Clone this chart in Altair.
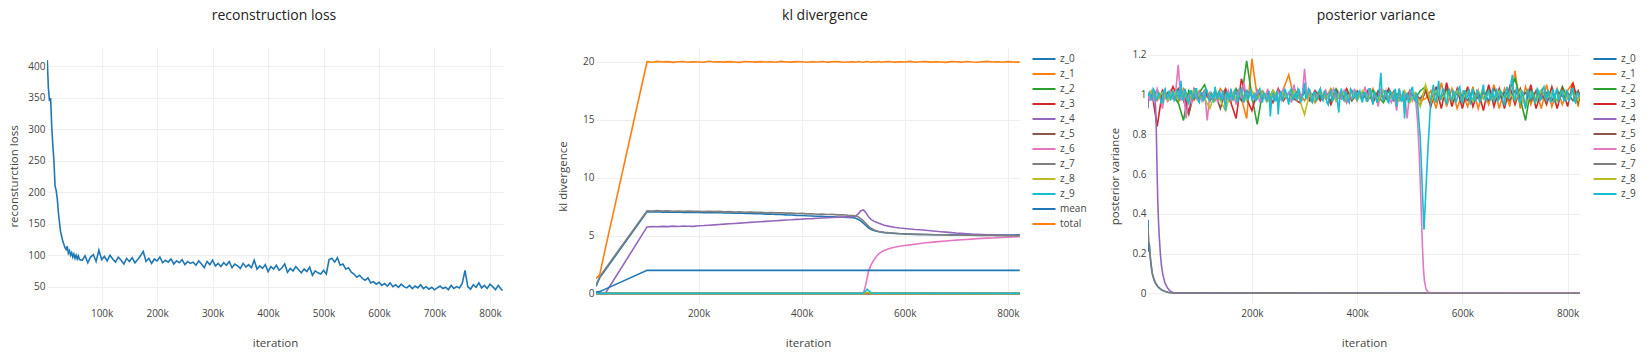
import altair as alt
import pandas as pd

FONT = "Open Sans"
TICK = "#444444"
GRID = "#eeeeee"

# ---------------- reconstruction loss ----------------
RECON_X = list(range(2000, 60001, 2000)) + list(range(65000, 820001, 5000)) + [823000]
RECON_Y = [
    410, 366, 345, 350, 305, 275, 250, 210, 203, 190,
    168, 152, 137, 130, 122, 117, 112, 109, 114, 103,
    107, 100, 104, 97, 102, 95, 100, 94, 99, 93,
    92, 99, 88, 97, 101, 90, 108, 93, 98, 91,
    100, 94, 89, 97, 92, 86, 95, 90, 96, 88,
    93, 99, 106, 90, 95, 87, 94, 91, 97, 88,
    92, 89, 94, 86, 91, 88, 93, 85, 90, 87,
    89, 84, 91, 86, 80, 90, 85, 92, 83, 87,
    82, 88, 84, 90, 80, 86, 83, 79, 87, 81,
    85, 80, 92, 78, 83, 79, 85, 74, 82, 78,
    84, 76, 80, 86, 73, 79, 75, 82, 77, 72,
    78, 74, 81, 68, 75, 72, 70, 76, 70, 93,
    95, 89, 96, 84, 86, 78, 80, 73, 70, 65,
    68, 63, 60, 64, 56, 58, 54, 57, 52, 55,
    51, 56, 50, 53, 49, 54, 50, 48, 52, 47,
    51, 48, 53, 47, 50, 46, 49, 45, 48, 51,
    47, 49, 45, 52, 47, 50, 48, 55, 76, 50,
    46, 53, 49, 56, 48, 52, 47, 54, 50, 45,
    52, 46, 44,
]

# ---------------- kl divergence ----------------
KL_SERIES = ["z_0", "z_1", "z_2", "z_3", "z_4", "z_5", "z_6", "z_7", "z_8", "z_9", "mean", "total"]
KL_COLORS = ["#1f77b4", "#ff7f0e", "#2ca02c", "#d62728", "#9467bd", "#8c564b",
             "#e377c2", "#7f7f7f", "#bcbd22", "#17becf", "#1f77b4", "#ff7f0e"]
KL_X = ([1000, 8000, 19000] + list(range(100000, 500000, 10000))
        + list(range(500000, 560000, 5000)) + list(range(560000, 830000, 10000)) + [823000])
KL_TOTAL = [
    1.3, 1.6, 3.85,
    20.02, 19.97, 20.05, 19.99, 20.03, 19.96, 20.01, 20.04, 19.98, 20.02,
    20.00, 19.97, 20.06, 19.99, 20.02, 19.98, 20.03, 20.00, 19.96, 20.04,
    20.01, 19.98, 20.03, 19.99, 20.02, 19.97, 20.05, 20.00, 19.98, 20.03,
    20.01, 19.97, 20.02, 19.99, 20.04, 19.98, 20.01, 20.03, 19.97, 20.00,
    20.02, 19.98, 20.04, 20.00, 19.97, 20.03, 20.01, 19.98, 20.02, 19.99, 20.03, 19.97,
    20.01, 20.04, 19.98, 20.02, 19.99, 20.05, 19.97, 20.01, 20.03, 19.98,
    20.02, 20.00, 19.96, 20.03, 20.01, 19.98, 20.04, 20.00, 19.97, 20.02,
    20.05, 19.99, 20.01, 19.97, 20.03, 20.00, 19.98,
    19.98,
]
KL_Z0 = [
    0.6, 1.35, 2.03,
    7.05, 7.04, 7.06, 7.03, 7.05, 7.02, 7.04, 7.01, 7.03, 7.00,
    7.01, 6.98, 7.00, 6.97, 6.99, 6.95, 6.96, 6.93, 6.95, 6.91,
    6.92, 6.89, 6.90, 6.86, 6.87, 6.83, 6.82, 6.79, 6.78, 6.75,
    6.74, 6.71, 6.70, 6.67, 6.66, 6.63, 6.62, 6.60, 6.59, 6.57,
    6.55, 6.50, 6.40, 6.25, 6.05, 5.85, 5.65, 5.52, 5.45, 5.38, 5.33, 5.29,
    5.26, 5.22, 5.19, 5.16, 5.14, 5.12, 5.11, 5.10, 5.09, 5.08,
    5.08, 5.07, 5.07, 5.06, 5.06, 5.05, 5.06, 5.05, 5.04, 5.05,
    5.04, 5.05, 5.04, 5.05, 5.04, 5.05, 5.06,
    5.06,
]
KL_Z7 = [
    0.7, 1.45, 2.13,
    7.15, 7.13, 7.16, 7.12, 7.14, 7.11, 7.13, 7.10, 7.12, 7.09,
    7.11, 7.08, 7.10, 7.07, 7.09, 7.05, 7.07, 7.04, 7.06, 7.02,
    7.04, 7.01, 7.02, 6.98, 7.00, 6.96, 6.97, 6.94, 6.95, 6.91,
    6.92, 6.88, 6.89, 6.85, 6.86, 6.82, 6.83, 6.79, 6.80, 6.76,
    6.74, 6.70, 6.62, 6.45, 6.25, 6.02, 5.80, 5.62, 5.50, 5.42, 5.36, 5.32,
    5.29, 5.25, 5.21, 5.18, 5.16, 5.14, 5.12, 5.11, 5.10, 5.09,
    5.08, 5.07, 5.06, 5.05, 5.05, 5.04, 5.03, 5.03, 5.02, 5.02,
    5.01, 5.01, 5.00, 5.00, 4.99, 5.00, 4.99,
    4.99,
]
KL_Z4 = [
    0.0, 0.0, 0.0,
    5.75, 5.78, 5.76, 5.80, 5.78, 5.82, 5.79, 5.83, 5.81, 5.80,
    5.85, 5.87, 5.90, 5.93, 5.96, 5.99, 6.02, 6.05, 6.08, 6.11,
    6.14, 6.17, 6.20, 6.23, 6.26, 6.29, 6.32, 6.35, 6.37, 6.40,
    6.42, 6.45, 6.47, 6.50, 6.52, 6.54, 6.56, 6.58, 6.60, 6.62,
    6.64, 6.70, 6.90, 7.15, 7.22, 6.95, 6.60, 6.38, 6.25, 6.15, 6.06, 5.98,
    5.90, 5.80, 5.72, 5.66, 5.61, 5.57, 5.53, 5.50, 5.46, 5.42,
    5.38, 5.34, 5.30, 5.26, 5.22, 5.19, 5.16, 5.13, 5.11, 5.09,
    5.07, 5.05, 5.04, 5.03, 5.02, 5.01, 5.00,
    5.00,
]
KL_Z6 = [
    0.0, 0.0, 0.0,
    0, 0, 0, 0, 0, 0, 0, 0, 0, 0,
    0, 0, 0, 0, 0, 0, 0, 0, 0, 0,
    0, 0, 0, 0, 0, 0, 0, 0, 0, 0,
    0, 0, 0, 0, 0, 0, 0, 0, 0, 0,
    0.0, 0.0, 0.0, 0.0, 0.05, 0.9, 2.0, 2.5, 2.9, 3.2, 3.45, 3.6,
    3.72, 3.88, 4.00, 4.08, 4.15, 4.20, 4.26, 4.32, 4.38, 4.42,
    4.46, 4.50, 4.54, 4.58, 4.61, 4.64, 4.67, 4.70, 4.73, 4.76,
    4.78, 4.80, 4.82, 4.84, 4.86, 4.88, 4.90,
    4.90,
]
KL_MEAN_X = [1000, 8000, 19000, 100000, 823000]
KL_MEAN = [0.13, 0.16, 0.38, 2.0, 2.0]
KL_ZERO_X = [1000, 823000]
KL_ZERO = [0.0, 0.0]
KL_BUMP_X = [1000, 518000, 523000, 527000, 531000, 536000, 823000]
KL_Z8 = [0.0, 0.0, 0.04, 0.10, 0.06, 0.0, 0.0]
KL_Z9 = [0.01, 0.01, 0.15, 0.38, 0.20, 0.02, 0.01]

# ---------------- posterior variance ----------------
PV_SERIES = ["z_0", "z_1", "z_2", "z_3", "z_4", "z_5", "z_6", "z_7", "z_8", "z_9"]
PV_COLORS = KL_COLORS[:10]
PV_Z0_X = [2500, 3500, 5000, 8000, 10000, 12000, 15000, 18000, 22000, 28000, 34000, 40000, 50000, 823000]
PV_Z0 = [0.37, 0.21, 0.23, 0.15, 0.11, 0.085, 0.06, 0.045, 0.03, 0.018, 0.01, 0.005, 0.001, 0.0]
PV_Z7_X = [2500, 4000, 5500, 7000, 9000, 11000, 14000, 17000, 21000, 26000, 32000, 40000, 50000, 823000]
PV_Z7 = [0.33, 0.26, 0.24, 0.18, 0.13, 0.095, 0.07, 0.05, 0.035, 0.022, 0.012, 0.005, 0.001, 0.0]
PV_Z4_X = [2500, 4000, 6000, 8000, 10000, 12000, 14000, 16000, 18000, 19500, 21000, 22500,
           24000, 26000, 28000, 31000, 35000, 40000, 45000, 52000, 823000]
PV_Z4 = [0.93, 1.01, 0.97, 1.02, 0.98, 1.00, 0.96, 0.99, 0.86, 0.65, 0.47, 0.36,
         0.28, 0.20, 0.14, 0.09, 0.05, 0.025, 0.01, 0.002, 0.0]
PV_Z9_X = ([2500] + list(range(5000, 516000, 2500)) + [520000, 527000, 534000, 540000]
           + list(range(545000, 820001, 2500)) + [823000])
PV_Z9 = [
    0.99,
    1.01, 0.99, 0.97, 1.03, 1.02, 0.97, 0.98, 1.01, 1.00, 0.96, 0.96, 1.02, 1.03, 0.98, 0.99, 1.02, 0.97, 0.99, 1.02, 0.97,
    0.98, 1.02, 1.01, 0.97, 1.07, 0.99, 0.97, 1.03, 1.00, 0.97, 0.95, 1.02, 1.02, 0.98, 0.99, 1.03, 1.03, 0.97, 0.96, 1.01,
    1.01, 0.97, 0.98, 1.03, 1.02, 0.98, 0.97, 1.01, 1.00, 0.96, 1.04, 0.99, 0.98, 1.02, 0.99, 0.97, 1.02, 0.98, 0.92, 1.01,
    1.00, 0.97, 1.03, 0.99, 0.97, 1.02, 1.01, 0.96, 0.98, 1.02, 1.03, 0.98, 0.96, 1.01, 1.02, 0.97, 1.00, 1.03, 0.97, 0.99,
    1.01, 0.97, 0.98, 1.02, 1.03, 0.98, 0.96, 1.01, 1.00, 0.97, 0.99, 1.02, 0.89, 0.98, 1.01, 0.97, 0.97, 1.02, 0.90, 0.99,
    1.02, 0.97, 0.98, 1.03, 1.01, 0.98, 0.95, 1.02, 1.03, 0.97, 0.99, 1.01, 0.97, 1.03, 1.02, 0.96, 0.98, 1.01, 1.06, 0.98,
    0.99, 1.03, 1.02, 0.97, 0.96, 1.01, 1.01, 0.97, 0.98, 1.02, 1.03, 0.98, 0.97, 1.02, 1.00, 0.96, 0.95, 1.01, 1.02, 0.97,
    0.98, 1.02, 1.01, 0.97, 0.91, 1.00, 1.03, 0.98, 0.97, 1.02, 1.00, 0.97, 0.96, 1.03, 1.02, 0.98, 0.99, 1.02, 0.97, 1.01,
    1.02, 0.98, 0.96, 1.01, 1.01, 0.97, 0.98, 1.03, 1.03, 0.98, 0.95, 1.02, 1.00, 0.96, 0.98, 1.03, 1.11, 0.99, 0.97, 1.02,
    1.02, 0.97, 0.96, 1.02, 1.01, 0.97, 0.99, 1.03, 0.94, 1.00, 1.03, 0.97, 0.97, 1.02, 0.88, 0.99, 1.01, 0.96, 0.98, 1.02,
    1.04, 0.98, 0.97, 1.01, 0.95,
    0.78, 0.32, 0.70, 0.98,
    1.05, 0.98, 0.96, 1.02, 1.07, 0.97, 0.99, 1.03, 1.02, 0.97, 0.95, 1.01, 1.03, 0.98, 0.97, 1.02, 1.01, 0.96, 0.98, 1.03,
    1.04, 0.97, 0.96, 1.02, 1.02, 0.98, 0.99, 1.03, 0.95, 1.00, 1.03, 0.97, 0.97, 1.02, 1.01, 0.96, 0.98, 1.02, 1.05, 0.98,
    0.97, 1.01, 1.02, 0.97, 0.99, 1.03, 0.96, 1.00, 1.03, 0.97, 0.98, 1.02, 1.01, 0.96, 0.95, 1.02, 1.04, 0.98, 1.00, 1.06,
    1.10, 0.99, 0.97, 1.03, 1.02, 0.97, 0.96, 1.02, 1.01, 0.97, 0.93, 1.00, 1.03, 0.98, 0.98, 1.02, 1.00, 0.96, 0.97, 1.03,
    1.02, 0.97, 0.98, 1.03, 1.04, 0.98, 0.97, 1.02, 1.01, 0.96, 0.99, 1.03, 0.96, 1.01, 1.03, 0.97, 0.98, 1.02, 1.02, 0.97,
    0.97, 1.02, 1.01, 0.97, 0.98, 1.03, 1.03, 0.97, 0.96, 1.01, 1.00,
    0.99,
]
PV_X_FINE = [2500] + list(range(5000, 516000, 5000))
PV_Z6_X = PV_X_FINE + [518000, 521000, 524000, 526000, 528000, 531000, 535000, 545000, 823000]
PV_Z6 = [
    1.00,
    0.98, 1.02, 0.96, 1.03, 0.99, 0.93, 1.01, 0.97, 1.02, 0.98,
    1.01, 1.15, 0.97, 1.02, 0.88, 1.00, 0.96, 1.03, 0.98, 1.01,
    0.97, 1.02, 0.87, 1.00, 0.98, 1.03, 0.96, 1.01, 0.99, 0.98,
    1.02, 0.97, 1.01, 0.95, 1.03, 0.98, 1.06, 0.97, 1.01, 0.99,
    0.98, 1.02, 0.96, 1.01, 0.98, 1.03, 0.97, 1.00, 0.98, 1.02,
    0.97, 1.03, 0.99, 1.01, 0.96, 1.05, 0.98, 1.02, 0.97, 1.13,
    0.98, 1.02, 0.96, 1.01, 0.99, 1.03, 0.97, 1.02, 0.98, 1.00,
    1.03, 0.97, 1.01, 0.98, 1.02, 0.96, 1.00, 0.98, 1.03, 0.97,
    1.01, 0.99, 1.04, 0.97, 1.02, 0.98, 1.00, 0.94, 1.03, 0.97,
    1.02, 0.98, 0.96, 1.01, 0.92, 1.03, 0.97, 1.00, 0.88, 1.02,
    0.97, 1.01, 0.86,
    0.70, 0.48, 0.24, 0.12, 0.06, 0.02, 0.005, 0.0, 0.0,
]
PV_X_COARSE = [2500] + list(range(10000, 820001, 10000)) + [823000]
PV_Z1 = [
    0.99,
    1.00, 0.97, 1.02, 0.98, 1.01, 0.96, 1.03, 0.99, 0.97, 1.02,
    0.98, 1.01, 0.97, 1.03, 0.99, 0.96, 1.02, 0.98, 0.88, 1.18,
    0.99, 1.02, 0.97, 1.01, 0.96, 1.03, 1.10, 0.98, 1.01, 0.97,
    1.02, 0.96, 1.01, 0.98, 1.03, 0.97, 1.00, 0.96, 1.02, 0.98,
    1.01, 0.97, 1.03, 0.96, 1.02, 0.98, 1.01, 0.97, 1.00, 0.98,
    0.99, 0.97, 0.98, 1.02, 0.93, 1.06, 0.94, 1.03, 0.93, 1.01,
    0.94, 1.04, 0.93, 1.02, 0.95, 1.05, 0.93, 1.03, 0.94, 1.12,
    0.93, 1.04, 0.95, 1.02, 0.93, 1.05, 0.94, 1.03, 0.95, 1.02,
    1.06, 0.94,
    1.00,
]
PV_Z2 = [
    1.00,
    0.98, 1.02, 0.97, 1.01, 0.99, 0.96, 0.87, 1.02, 0.98, 1.01,
    1.05, 0.97, 1.02, 0.98, 1.01, 0.97, 1.03, 0.98, 1.17, 0.99,
    0.85, 1.01, 0.97, 1.02, 0.98, 1.01, 0.97, 1.03, 0.99, 1.01,
    0.97, 1.02, 0.98, 1.01, 0.96, 1.03, 0.99, 0.97, 1.02, 0.98,
    1.01, 0.97, 1.02, 0.99, 0.96, 1.02, 0.98, 1.01, 0.97, 1.00,
    0.98, 1.02, 1.04, 0.97, 1.01, 0.98, 1.03, 0.97, 1.02, 0.99,
    1.03, 0.97, 1.01, 0.98, 1.04, 0.96, 1.02, 0.99, 1.03, 1.08,
    0.98, 0.87, 1.03, 0.97, 1.02, 0.99, 1.01, 0.97, 1.04, 0.98,
    1.02, 0.96,
    1.00,
]
PV_Z3 = [
    0.98,
    1.01, 0.84, 1.02, 0.97, 1.04, 0.98, 1.01, 0.91, 1.03, 0.98,
    1.02, 0.97, 1.01, 0.98, 1.03, 0.96, 0.88, 1.08, 0.98, 0.92,
    1.02, 0.98, 1.01, 0.96, 1.03, 0.97, 1.01, 0.98, 0.96, 1.02,
    0.98, 1.01, 0.97, 1.02, 0.95, 1.01, 0.98, 1.03, 0.97, 1.00,
    0.98, 1.02, 0.96, 1.01, 0.98, 1.03, 0.97, 1.01, 0.96, 1.02,
    0.97, 0.95, 1.02, 0.94, 1.04, 0.93, 1.06, 0.94, 1.03, 0.93,
    1.04, 0.94, 1.02, 0.92, 1.05, 0.94, 1.03, 0.93, 1.04, 0.95,
    1.03, 0.94, 1.05, 0.93, 1.02, 0.95, 1.04, 0.93, 1.03, 0.94,
    1.06, 0.96,
    1.00,
]
PV_Z5 = [
    1.00,
    0.99, 1.02, 0.97, 1.01, 0.98, 1.03, 0.97, 0.90, 1.01, 0.98,
    1.02, 0.97, 1.01, 0.93, 1.02, 0.98, 1.01, 0.97, 1.02, 0.99,
    0.98, 1.01, 0.97, 1.02, 0.98, 1.01, 0.97, 1.03, 0.98, 1.01,
    0.97, 1.02, 0.99, 1.01, 0.97, 1.02, 0.98, 1.01, 0.97, 1.02,
    0.98, 1.01, 0.97, 1.02, 0.99, 0.97, 1.02, 0.98, 1.01, 0.97,
    1.00, 0.98, 1.02, 0.97, 1.01, 0.98, 1.03, 0.97, 1.01, 0.99,
    0.97, 1.02, 0.98, 1.01, 0.97, 1.03, 0.98, 1.01, 0.97, 1.02,
    0.98, 1.01, 0.97, 1.02, 0.98, 1.01, 0.97, 1.02, 0.99, 1.01,
    0.97, 1.02,
    1.00,
]
PV_Z8 = [
    0.99,
    1.02, 0.98, 1.01, 0.97, 1.02, 0.98, 1.01, 0.97, 1.02, 0.99,
    0.98, 0.93, 1.01, 0.97, 0.92, 1.02, 0.98, 1.01, 0.97, 1.02,
    0.98, 1.01, 0.97, 1.02, 0.98, 1.01, 0.97, 1.02, 0.98, 0.90,
    1.01, 0.97, 1.02, 0.98, 1.01, 0.97, 1.02, 0.98, 1.01, 0.97,
    1.02, 0.98, 1.01, 0.97, 1.02, 0.98, 1.01, 0.97, 1.02, 0.96,
    1.01, 0.94, 1.05, 0.96, 1.02, 0.98, 1.01, 0.97, 1.02, 0.98,
    1.01, 0.97, 1.02, 0.98, 1.01, 0.97, 1.02, 0.98, 1.01, 0.97,
    1.02, 0.94, 1.01, 0.97, 1.02, 0.98, 1.01, 0.97, 1.02, 0.98,
    1.01, 0.97,
    1.00,
]


def long_frame(parts):
    rows = []
    for name, xs, ys in parts:
        assert len(xs) == len(ys), (name, len(xs), len(ys))
        for a, b in zip(xs, ys):
            rows.append({"x": a, "y": b, "series": name})
    return pd.DataFrame(rows)


HEIGHT = 256


def axes(xdom, ydom, xticks, yticks, ytitle):
    x = alt.X("x:Q", scale=alt.Scale(domain=xdom, nice=False, zero=False),
              axis=alt.Axis(values=xticks, labelExpr="datum.value / 1000 + 'k'",
                            title="iteration", titleY=40, titleBaseline="middle",
                            labelPadding=5))
    y = alt.Y("y:Q", scale=alt.Scale(domain=ydom, nice=False, zero=False),
              axis=alt.Axis(values=yticks, labelExpr="'' + datum.value", title=ytitle,
                            titleX=-33, titleY=129, titleBaseline="middle",
                            titleAlign="center", labelPadding=2))
    return x, y


def title(text, dx):
    return alt.TitleParams(text=text, font=FONT, fontSize=14, fontWeight="normal",
                           color="#222222", anchor="middle", frame="group",
                           baseline="middle", offset=17, dx=dx)


def multi_panel(df, order, colors, xdom, ydom, xticks, yticks, ytitle, width,
                ttl, dx, lx, ly):
    x, y = axes(xdom, ydom, xticks, yticks, ytitle)
    cscale = alt.Scale(domain=order, range=colors)
    legend = alt.Legend(orient="none", legendX=lx, legendY=ly, title=None,
                        symbolType="M-2.3,0H2.3", symbolSize=100, symbolStrokeWidth=2,
                        labelFont=FONT, labelFontSize=10, labelColor=TICK,
                        labelOffset=10, rowPadding=4, padding=0)
    layers = []
    for name in order:
        sub = df[df.series == name]
        layers.append(
            alt.Chart(sub).mark_line(strokeWidth=1.6, clip=True).encode(
                x=x, y=y,
                color=alt.Color("series:N", scale=cscale, legend=legend),
            )
        )
    return alt.layer(*layers).properties(width=width, height=HEIGHT, title=title(ttl, dx))


# panel 1
recon_df = long_frame([("loss", RECON_X, RECON_Y)])
x1, y1 = axes([1500, 823500], [24, 431], list(range(100000, 800001, 100000)),
              list(range(50, 401, 50)), "reconsturction loss")
p1 = alt.Chart(recon_df).mark_line(strokeWidth=1.6, color="#1f77b4", clip=True).encode(
    x=x1, y=y1).properties(width=456, height=HEIGHT, title=title("reconstruction loss", -1))

# panel 2
kl_df = long_frame([
    ("z_0", KL_X, KL_Z0), ("z_1", KL_ZERO_X, KL_ZERO), ("z_2", KL_ZERO_X, KL_ZERO),
    ("z_3", KL_ZERO_X, KL_ZERO), ("z_4", KL_X, KL_Z4), ("z_5", KL_ZERO_X, KL_ZERO),
    ("z_6", KL_X, KL_Z6), ("z_7", KL_X, KL_Z7), ("z_8", KL_BUMP_X, KL_Z8),
    ("z_9", KL_BUMP_X, KL_Z9), ("mean", KL_MEAN_X, KL_MEAN), ("total", KL_X, KL_TOTAL),
])
p2 = multi_panel(kl_df, KL_SERIES, KL_COLORS, [1000, 823500], [-0.82, 21.29],
                 [200000, 400000, 600000, 800000], [0, 5, 10, 15, 20], "kl divergence",
                 424, "kl divergence", 17, 442, 6)

# panel 3
pv_df = long_frame([
    ("z_0", PV_Z0_X, PV_Z0), ("z_1", PV_X_COARSE, PV_Z1), ("z_2", PV_X_COARSE, PV_Z2),
    ("z_3", PV_X_COARSE, PV_Z3), ("z_4", PV_Z4_X, PV_Z4), ("z_5", PV_X_COARSE, PV_Z5),
    ("z_6", PV_Z6_X, PV_Z6), ("z_7", PV_Z7_X, PV_Z7), ("z_8", PV_X_COARSE, PV_Z8),
    ("z_9", PV_Z9_X, PV_Z9),
])
p3 = multi_panel(pv_df, PV_SERIES, PV_COLORS, [2500, 823500], [-0.049, 1.24],
                 [200000, 400000, 600000, 800000], [0, 0.2, 0.4, 0.6, 0.8, 1, 1.2],
                 "posterior variance", 432, "posterior variance", 12, 451, 6)


def spacer(w):
    return alt.Chart(pd.DataFrame({"v": [0.5]})).mark_point(opacity=0, size=1).encode(
        x=alt.X("v:Q", axis=None, scale=alt.Scale(domain=[0, 1])),
        y=alt.Y("v:Q", axis=None, scale=alt.Scale(domain=[0, 1])),
    ).properties(width=w, height=HEIGHT)


chart = alt.hconcat(p1, spacer(93), p2, spacer(128), p3, spacing=0, bounds="flush").resolve_scale(
    color="independent"
).properties(
    padding={"left": 8, "top": 9, "right": 0, "bottom": 0}
).configure(font=FONT).configure_view(stroke=None).configure_axis(
    labelFont=FONT, labelFontSize=10, labelColor=TICK,
    titleFont=FONT, titleFontSize=11.5, titleColor=TICK, titleFontWeight="normal",
    gridColor=GRID, gridWidth=1, domain=False, ticks=False,
)

chart.save("out.html", embed_options={"renderer": "svg", "actions": False})
